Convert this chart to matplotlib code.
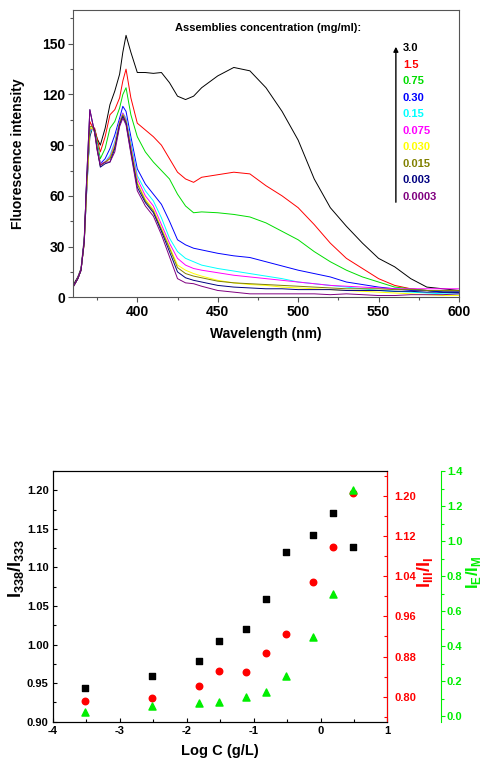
import matplotlib
matplotlib.use("Agg")
import matplotlib.pyplot as plt
from matplotlib.ticker import MultipleLocator

plt.rcParams['font.family'] = ['Liberation Sans', 'DejaVu Sans']
plt.rcParams['font.weight'] = 'bold'
plt.rcParams['mathtext.fontset'] = 'custom'
plt.rcParams['mathtext.bf'] = 'Liberation Sans:bold'
plt.rcParams['mathtext.rm'] = 'Liberation Sans:bold'
plt.rcParams['axes.unicode_minus'] = False

# ---- widma fluorescencji ----
wl = [360, 363, 365, 367, 368.5, 370.5, 372, 373.5, 375, 377, 380, 383, 386, 389, 391, 393, 396,
      400, 405, 410, 415, 420, 425, 430, 435, 440, 450, 460, 470, 480, 490, 500, 510, 520, 530,
      540, 550, 560, 570, 580, 590, 600]

c_30 = [7, 12, 17, 35, 68, 95, 100, 99, 94, 90, 100, 114, 122, 132, 145, 155, 145,
        133, 133, 132.5, 133, 127, 119, 117, 119, 124, 131, 136, 134, 124, 110, 93, 70, 53, 42,
        32, 23, 18, 11, 6, 5, 4]
c_15 = [6, 11, 16, 33, 65, 104, 101, 100, 94, 86, 95, 108, 111, 118, 128, 135, 118,
        103, 99, 95, 90, 82, 74, 70, 68, 71, 72.5, 74, 73, 66, 60, 53, 43, 32, 23,
        17, 11, 7, 5, 4, 3, 3]
c_075 = [6, 11, 16, 33, 64, 100, 100, 99, 92, 82, 88, 100, 104, 112, 120, 124, 108,
         95, 86, 80, 75, 70, 61, 54, 50, 50.5, 50, 49, 47.5, 44, 39, 34, 27, 21, 16,
         12, 9, 6, 5, 4, 3, 3]
c_030 = [6, 11, 16, 33, 62, 98, 100, 98, 90, 79, 82, 88, 96, 106, 113, 110, 95,
         76, 67, 61, 55, 45, 34, 31, 29, 28, 26, 24.5, 23.5, 21, 18.5, 16, 14, 12, 9,
         7.5, 6, 5, 4, 4, 3, 3]
c_015 = [6, 11, 16, 32, 62, 97, 100, 98, 90, 79, 80, 84, 92, 104, 109, 106, 92,
         72, 63, 57, 47, 35, 27, 23, 21, 19, 17, 15.5, 14, 12.5, 11, 9, 8, 7, 6,
         5, 4, 3.5, 3, 2.5, 2, 2]
c_0075 = [6, 11, 16, 32, 63, 99, 100, 98, 89, 79, 80, 83, 91, 104, 109, 105, 90,
          70, 60, 54, 43, 32, 23, 19, 17, 16, 14.5, 13, 12, 11, 10, 9, 8, 7, 6.5,
          6, 5.5, 5, 5, 5, 5, 5]
c_0030 = [6, 11, 16, 32, 63, 100, 100, 98, 89, 78, 80, 82, 90, 103, 108, 104, 88,
          68, 58, 52, 41, 30, 19, 16, 14, 12.5, 10, 8.5, 7.5, 7, 6, 5.5, 5, 4.5, 4,
          3.5, 3, 2.5, 2, 1.5, 1, 1]
c_0015 = [6, 11, 16, 32, 64, 101, 101, 98, 88, 78, 80, 82, 89, 103, 108, 104, 88,
          67, 57, 51, 40, 29, 17.5, 14, 12.5, 11.5, 9.5, 8.5, 8, 7.5, 7, 6.5, 6, 5.5, 5,
          5, 5, 4.5, 4.5, 4, 4, 4]
c_0003 = [6, 11, 16, 33, 70, 111, 104, 98, 88, 77, 79, 80, 88, 102, 107, 103, 86,
          65, 56, 50, 39, 27, 15, 11.5, 10, 9, 7, 6, 5.5, 5, 5, 4.5, 4.5, 4.5, 4,
          4, 4, 3.5, 3.5, 3, 3, 3]
c_00003 = [6, 11, 16, 33, 70, 111, 104, 97, 87, 78, 80, 80, 86, 101, 106, 102, 85,
           63, 54, 48, 37, 24, 11, 8.5, 8, 6.5, 4, 3, 2, 2, 2, 2, 2, 1.5, 2,
           1.5, 1, 1, 1.5, 1.5, 1.5, 2]

krzywe = [c_30, c_15, c_075, c_030, c_015, c_0075, c_0030, c_0015, c_0003, c_00003]
etykiety = ['3.0', '1.5', '0.75', '0.30', '0.15', '0.075', '0.030', '0.015', '0.003', '0.0003']
kolory = ['#000000', '#ff0000', '#00dd00', '#0000ff', '#00ffff', '#ff00ff',
          '#ffff00', '#808000', '#000080', '#800080']

# ---- stosunki intensywnosci ----
logc = [-3.52, -2.52, -1.82, -1.52, -1.12, -0.82, -0.52, -0.12, 0.18, 0.48]
i338 = [0.944, 0.959, 0.979, 1.004, 1.020, 1.059, 1.120, 1.142, 1.170, 1.127]
i3i1 = [0.792, 0.797, 0.822, 0.851, 0.850, 0.887, 0.924, 1.028, 1.099, 1.207]
ieim = [0.023, 0.059, 0.074, 0.078, 0.112, 0.135, 0.230, 0.453, 0.695, 1.29]

fig = plt.figure(figsize=(4.93, 7.7), dpi=100)

# pierwszy wykres
ax = fig.add_axes([0.148, 0.614, 0.783, 0.373])
for y, k in zip(krzywe, kolory):
    ax.plot(wl, y, color=k, lw=0.7)
ax.set_xlim(360, 600)
ax.set_ylim(0, 170)
ax.xaxis.set_major_locator(MultipleLocator(50))
ax.xaxis.set_minor_locator(MultipleLocator(25))
ax.yaxis.set_major_locator(MultipleLocator(30))
ax.yaxis.set_minor_locator(MultipleLocator(15))
ax.tick_params(direction='out', length=3.5, width=0.8, labelsize=10, pad=2, color='#555555')
ax.tick_params(which='minor', direction='out', length=2, width=0.8, color='#555555')
for s in ax.spines.values():
    s.set_color('#555555')
ax.set_xlabel('Wavelength (nm)', fontsize=10, fontweight='bold', labelpad=6)
ax.set_ylabel('Fluorescence intensity', fontsize=10, fontweight='bold', labelpad=12)

fig.text(0.355, 0.963, 'Assemblies concentration (mg/ml):', fontsize=8, fontweight='bold',
         va='center')
for i, (e, k) in enumerate(zip(etykiety, kolory)):
    fig.text(0.817, 1 - (48 + 16.55 * i) / 770, e, color=k, fontsize=8, fontweight='bold',
             va='center')
fig.add_artist(matplotlib.patches.FancyArrowPatch((0.803, 1 - 205 / 770), (0.803, 1 - 44 / 770),
                                                  transform=fig.transFigure, arrowstyle='-|>',
                                                  mutation_scale=7, lw=1, color='black'))

# drugi wykres
bx = fig.add_axes([0.107, 0.0627, 0.679, 0.3256])
bx.scatter(logc, i338, marker='s', s=14, color='black', zorder=3)
bx.set_xlim(-4, 1)
bx.set_ylim(0.90, 1.225)
bx.xaxis.set_major_locator(MultipleLocator(1))
bx.xaxis.set_minor_locator(MultipleLocator(0.5))
bx.yaxis.set_major_locator(MultipleLocator(0.05))
bx.yaxis.set_minor_locator(MultipleLocator(0.025))
bx.tick_params(direction='in', length=3, width=0.8, labelsize=8, pad=3)
bx.tick_params(which='minor', direction='in', length=2, width=0.8)
bx.set_xlabel('Log C (g/L)', fontsize=10.5, fontweight='bold', labelpad=6)
fig.text(0.032, 0.262, r'$\mathbf{I}_{\mathbf{338}}/\mathbf{I}_{\mathbf{333}}$', fontsize=13,
         rotation=90, ha='center', va='center')

rx = bx.twinx()
rx.scatter(logc, i3i1, marker='o', s=22, color='#ff0000', zorder=3)
rx.set_ylim(0.75, 1.25)
rx.yaxis.set_major_locator(MultipleLocator(0.08))
rx.yaxis.set_minor_locator(MultipleLocator(0.04))
rx.tick_params(axis='y', direction='in', length=3, width=0.8, labelsize=8, pad=5,
               color='#ff0000', labelcolor='#ff0000')
rx.tick_params(axis='y', which='minor', direction='in', length=2, width=0.8, color='#ff0000')
rx.spines['right'].set_color('#ff0000')
fig.text(0.862, 0.256, r'$\mathbf{I}_{\mathbf{III}}/\mathbf{I}_{\mathbf{I}}$', fontsize=13,
         rotation=90, ha='center', va='center', color='#ff0000')

gx = bx.twinx()
gx.spines['right'].set_position(('axes', 1.161))
gx.scatter(logc, ieim, marker='^', s=26, color='#00ee00', zorder=3)
gx.set_ylim(-0.032, 1.4)
gx.yaxis.set_major_locator(MultipleLocator(0.2))
gx.yaxis.set_minor_locator(MultipleLocator(0.1))
gx.tick_params(axis='y', direction='out', length=3, width=0.8, labelsize=8, pad=1,
               color='#00ee00', labelcolor='#00ee00')
gx.tick_params(axis='y', which='minor', direction='out', length=2, width=0.8, color='#00ee00')
gx.spines['right'].set_color('#00ee00')
gx.spines['top'].set_visible(False)
gx.spines['left'].set_visible(False)
gx.spines['bottom'].set_visible(False)
fig.text(0.96, 0.257, r'$\mathbf{I}_{\mathbf{E}}/\mathbf{I}_{\mathbf{M}}$', fontsize=12,
         rotation=90, ha='center', va='center', color='#00ee00')

fig.savefig('out.png', dpi=100)
